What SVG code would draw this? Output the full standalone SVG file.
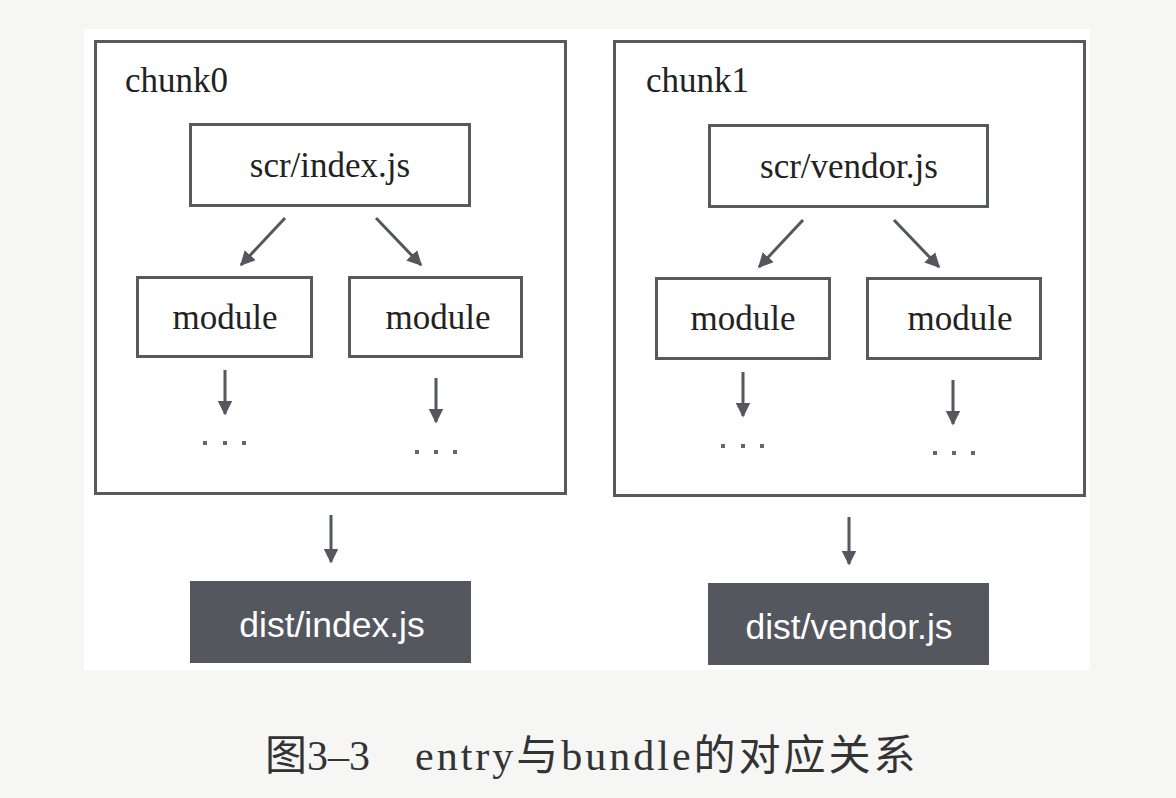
<svg xmlns="http://www.w3.org/2000/svg" width="1176" height="798" viewBox="0 0 1176 798">
<defs>
<style>
.box{fill:#fff;stroke:#58595e;stroke-width:3}
.dark{fill:#55575e}
.t{font-family:"Liberation Serif","Times New Roman",serif;font-size:35px;fill:#222}
.tc{text-anchor:middle}
.w{font-family:"Liberation Sans",Arial,sans-serif;font-size:35.5px;fill:#fff;text-anchor:middle}
.ln{stroke:#55575e;stroke-width:3;fill:none}
.dot{fill:#666}
.cap{font-family:"Liberation Serif","Noto Sans CJK SC",serif;font-size:42px;fill:#333}
</style>
<marker id="ah" viewBox="0 0 10 10" refX="9" refY="5" markerWidth="5" markerHeight="5" orient="auto" markerUnits="strokeWidth">
<path d="M0,0 L10,5 L0,10 z" fill="#55575e"/>
</marker>
</defs>
<rect width="1176" height="798" fill="#f6f6f4"/>
<rect x="84" y="29" width="1006" height="641" fill="#fff"/>

<g id="chunk0">
<rect class="box" x="95.5" y="41.5" width="470" height="452"/>
<text class="t" x="125" y="92">chunk0</text>
</g>
<g id="chunk1">
<rect class="box" x="614.5" y="41.5" width="470" height="454"/>
<text class="t" x="646" y="92">chunk1</text>
</g>
<g id="src-index">
<rect class="box" x="190.5" y="124.5" width="279" height="81"/>
<text class="t tc" x="330" y="177">scr/index.js</text>
</g>
<g id="src-vendor">
<rect class="box" x="709.5" y="125.5" width="278" height="81"/>
<text class="t tc" x="849" y="178">scr/vendor.js</text>
</g>
<g id="module-a">
<rect class="box" x="137.5" y="277.5" width="174" height="79"/>
<text class="t tc" x="225" y="329">module</text>
</g>
<g id="module-b">
<rect class="box" x="349.5" y="277.5" width="172" height="79"/>
<text class="t tc" x="438" y="329">module</text>
</g>
<g id="module-c">
<rect class="box" x="656.5" y="278.5" width="173" height="80"/>
<text class="t tc" x="743" y="330">module</text>
</g>
<g id="module-d">
<rect class="box" x="867.5" y="278.5" width="173" height="80"/>
<text class="t tc" x="960" y="330">module</text>
</g>
<g id="dots-a"><rect class="dot" x="203" y="441" width="4" height="4"/><rect class="dot" x="223" y="441" width="4" height="4"/><rect class="dot" x="242" y="441" width="4" height="4"/></g>
<g id="dots-b"><rect class="dot" x="415" y="450" width="4" height="4"/><rect class="dot" x="434" y="450" width="4" height="4"/><rect class="dot" x="453" y="450" width="4" height="4"/></g>
<g id="dots-c"><rect class="dot" x="721" y="444" width="4" height="4"/><rect class="dot" x="741" y="444" width="4" height="4"/><rect class="dot" x="760" y="444" width="4" height="4"/></g>
<g id="dots-d"><rect class="dot" x="933" y="451" width="4" height="4"/><rect class="dot" x="952" y="451" width="4" height="4"/><rect class="dot" x="971" y="451" width="4" height="4"/></g>
<g id="dist-index">
<rect class="dark" x="190" y="581" width="281" height="82"/>
<text class="w" x="332" y="637">dist/index.js</text>
</g>
<g id="dist-vendor">
<rect class="dark" x="708" y="583" width="281" height="82"/>
<text class="w" x="849" y="639">dist/vendor.js</text>
</g>

<g id="connectors">
<line class="ln" x1="285" y1="218" x2="241" y2="265" marker-end="url(#ah)"/>
<line class="ln" x1="376" y1="218" x2="421" y2="265" marker-end="url(#ah)"/>
<line class="ln" x1="803" y1="220" x2="759" y2="267" marker-end="url(#ah)"/>
<line class="ln" x1="894" y1="220" x2="939" y2="267" marker-end="url(#ah)"/>
<line class="ln" x1="225" y1="370" x2="225" y2="414" marker-end="url(#ah)"/>
<line class="ln" x1="436" y1="378" x2="436" y2="422" marker-end="url(#ah)"/>
<line class="ln" x1="743" y1="372" x2="743" y2="416" marker-end="url(#ah)"/>
<line class="ln" x1="953" y1="380" x2="953" y2="424" marker-end="url(#ah)"/>
<line class="ln" x1="331" y1="515" x2="331" y2="562" marker-end="url(#ah)"/>
<line class="ln" x1="849" y1="517" x2="849" y2="564" marker-end="url(#ah)"/>
</g>

<text class="cap" x="265" y="770">图3–3<tspan x="415" letter-spacing="3">entry与bundle的对应关系</tspan></text>
</svg>
